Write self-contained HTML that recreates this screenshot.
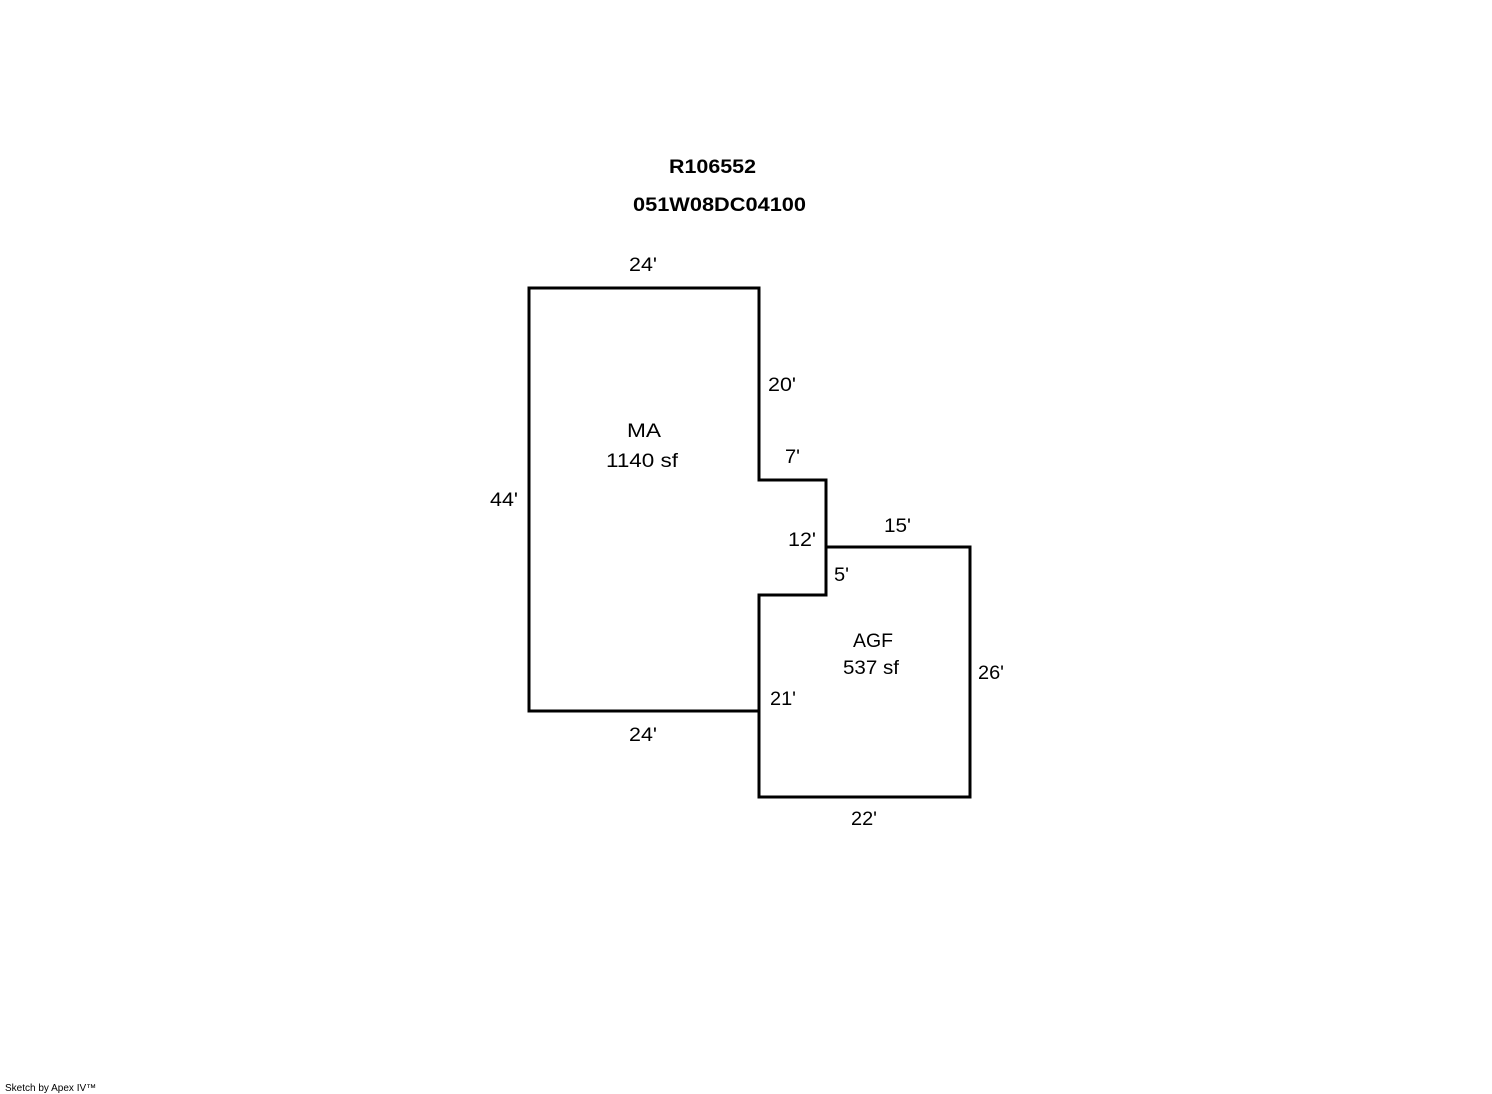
<!DOCTYPE html>
<html><head><style>body{margin:0;background:#fff}</style></head><body>
<svg width="1492" height="1094" xmlns="http://www.w3.org/2000/svg" style="display:block">
<g fill="none" stroke="#000" stroke-width="3" stroke-linejoin="miter">
<polygon points="529,288 759,288 759,480 826,480 826,595 759,595 759,711 529,711"/>
<polyline points="826,547 970,547 970,797 759,797 759,595"/>
</g>
<g font-family="Liberation Sans, Arial, sans-serif" font-size="19" fill="#000" lengthAdjust="spacingAndGlyphs">
<text x="669" y="173" font-weight="bold" textLength="87" lengthAdjust="spacingAndGlyphs">R106552</text>
<text x="633" y="211" font-weight="bold" textLength="173" lengthAdjust="spacingAndGlyphs">051W08DC04100</text>
<text x="629" y="271" textLength="28" lengthAdjust="spacingAndGlyphs">24'</text>
<text x="768" y="391" textLength="28" lengthAdjust="spacingAndGlyphs">20'</text>
<text x="785" y="463" textLength="15" lengthAdjust="spacingAndGlyphs">7'</text>
<text x="627" y="437" textLength="34" lengthAdjust="spacingAndGlyphs">MA</text>
<text x="606" y="467" textLength="72" lengthAdjust="spacingAndGlyphs">1140 sf</text>
<text x="490" y="506" textLength="28" lengthAdjust="spacingAndGlyphs">44'</text>
<text x="788" y="546" textLength="28" lengthAdjust="spacingAndGlyphs">12'</text>
<text x="884" y="532" textLength="27" lengthAdjust="spacingAndGlyphs">15'</text>
<text x="834" y="581" textLength="15" lengthAdjust="spacingAndGlyphs">5'</text>
<text x="853" y="647" textLength="40" lengthAdjust="spacingAndGlyphs">AGF</text>
<text x="843" y="674" textLength="56" lengthAdjust="spacingAndGlyphs">537 sf</text>
<text x="978" y="679" textLength="26" lengthAdjust="spacingAndGlyphs">26'</text>
<text x="770" y="705" textLength="26" lengthAdjust="spacingAndGlyphs">21'</text>
<text x="629" y="741" textLength="28" lengthAdjust="spacingAndGlyphs">24'</text>
<text x="851" y="825" textLength="26" lengthAdjust="spacingAndGlyphs">22'</text>
</g>
<text x="5" y="1091" font-family="Liberation Sans, Arial, sans-serif" font-size="10">Sketch by Apex IV™</text>
</svg>
</body></html>
